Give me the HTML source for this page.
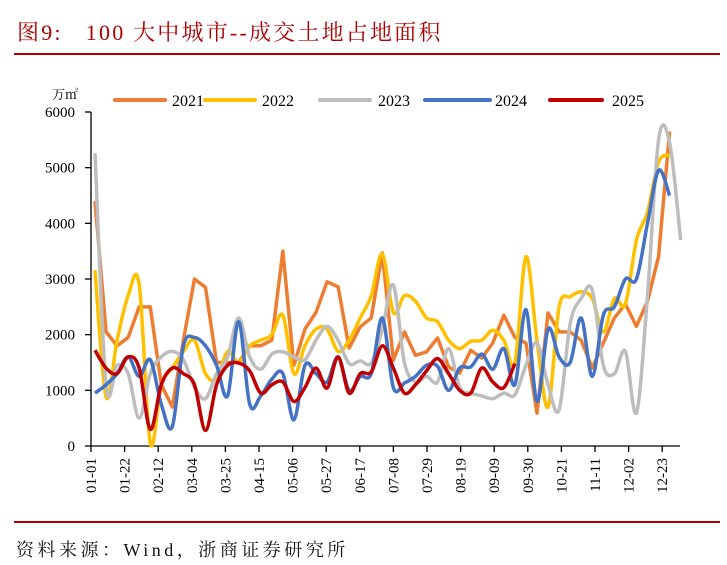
<!DOCTYPE html>
<html><head><meta charset="utf-8"><style>
body{margin:0;background:#fff;width:727px;height:565px;overflow:hidden;position:relative;font-family:"Liberation Serif","Noto Serif CJK SC",serif}
#title{position:absolute;left:17px;top:16px;font-size:22px;letter-spacing:2.2px;color:#b00000;white-space:nowrap;font-family:"Liberation Serif","Noto Serif CJK SC",serif}
#src{position:absolute;left:16px;top:536px;font-size:18px;letter-spacing:3.5px;color:#111;white-space:nowrap;font-family:"Liberation Serif","Noto Serif CJK SC",serif}
</style></head><body>
<div id="title">图9:&nbsp;&nbsp; 100 大中城市--成交土地占地面积</div>
<svg id="chart" width="727" height="565" style="position:absolute;left:0;top:0"></svg>
<div id="src">资料来源：Wind，浙商证券研究所</div>
<script>
const xLabels=["01-01","01-22","02-12","03-04","03-25","04-15","05-06","05-27","06-17","07-08","07-29","08-19","09-09","09-30","10-21","11-11","12-02","12-23"];
const yTicks=[0,1000,2000,3000,4000,5000,6000];
const seriesNames=["2021","2022","2023","2024","2025"];
const s2021=[4400,2050,1800,1950,2500,2500,1100,700,1900,3000,2850,1500,1500,1500,1800,1800,1900,3500,1450,2100,2400,2950,2860,1760,2140,2300,3470,1540,2050,1630,1690,1940,1420,1310,1720,1580,1850,2350,1950,1850,590,2390,2050,2050,1900,1400,1850,2300,2550,2150,2600,3400,5650];
const s2022=[3160,880,1900,2700,2900,50,1100,1400,1700,1900,1300,1200,1700,1500,1800,1900,2000,2350,1300,1800,2100,2100,1700,1900,2300,2700,3450,2400,2700,2600,2300,2230,1900,1750,1880,1900,2080,1900,1500,3400,1900,700,2500,2680,2770,2650,2050,2650,2550,3700,4200,5100,5230];
const s2023=[5260,1100,1450,1300,500,1300,1600,1700,1550,1060,850,1300,1600,2300,1600,1380,1650,1690,1600,1550,1900,2150,1900,1480,1530,1490,2100,2890,1500,1150,1250,1150,1750,1050,950,900,850,950,920,1450,1850,1100,650,2200,2650,2800,1450,1300,1700,600,2700,5500,5450,3700];
const s2024=[950,1100,1300,1600,1250,1550,750,350,1800,1950,1800,1450,900,2230,750,900,1200,1300,470,1450,1300,1150,1600,1000,1250,1300,2300,1050,1130,1250,1450,1430,1000,1400,1420,1650,1380,1750,1100,2450,800,2100,1600,1500,2300,1250,2350,2500,3000,3000,4000,4950,4500];
const s2025=[1720,1400,1300,1600,1400,300,1100,1400,1300,1100,280,1100,1450,1490,1350,950,1100,1150,800,1050,1400,1040,1600,950,1300,1330,1800,1400,950,1100,1350,1570,1300,1000,950,1400,1150,1050,1480];
const colors=["#ED7D31","#FFC000","#BDBDBD","#4472C4","#C00000"];
const allSeries=[s2021,s2022,s2023,s2024,s2025];
const svg=document.getElementById('chart');
const NS='http://www.w3.org/2000/svg';
const X0=95,STEP=11.05,Y0=446,YMAX=6000,YTOP=112;
function xs(i){return X0+i*STEP;}
function ys(v){return Y0-(v/YMAX)*(Y0-YTOP);}
function mk(t,a){const e=document.createElementNS(NS,t);for(const k in a)e.setAttribute(k,a[k]);svg.appendChild(e);return e;}
let l=mk('line',{x1:14,y1:54,x2:720,y2:54,stroke:'#b00000','stroke-width':2});


l=mk('line',{x1:14,y1:522,x2:720,y2:522,stroke:'#b00000','stroke-width':2});


let ax=mk('line',{x1:91,y1:112,x2:91,y2:446,stroke:'#000','stroke-width':1.3});


ax=mk('line',{x1:91,y1:446,x2:680,y2:446,stroke:'#000','stroke-width':1.3});


yTicks.forEach(v=>{const y=ys(v);
 mk('line',{x1:85,y1:y,x2:91,y2:y,stroke:'#000','stroke-width':1.3});
 const t=mk('text',{x:75,y:y+5,'text-anchor':'end','font-size':15,'font-family':'Liberation Serif, serif',fill:'#000'});
 t.textContent=v;
 
 
});
xLabels.forEach((lab,k)=>{const x=91+k*33.6;
 mk('line',{x1:x,y1:446,x2:x,y2:452,stroke:'#000','stroke-width':1.3});
 const t=mk('text',{x:0,y:0,'text-anchor':'end','font-size':15,'font-family':'Liberation Serif, serif',fill:'#000',transform:`translate(${x+5},458) rotate(-90)`});
 t.textContent=lab;
 
 
});
let u=mk('text',{x:52,y:99,'font-size':13,'font-family':'Liberation Serif, Noto Serif CJK SC, serif',fill:'#000'});
u.textContent='万㎡';


function smooth(pts){let d=`M${pts[0][0]},${pts[0][1]}`;
 for(let i=0;i<pts.length-1;i++){const p0=pts[i-1]||pts[i],p1=pts[i],p2=pts[i+1],p3=pts[i+2]||p2;
  const c1x=p1[0]+(p2[0]-p0[0])/6,c1y=p1[1]+(p2[1]-p0[1])/6,c2x=p2[0]-(p3[0]-p1[0])/6,c2y=p2[1]-(p3[1]-p1[1])/6;
  d+=` C${c1x},${c1y} ${c2x},${c2y} ${p2[0]},${p2[1]}`;}return d;}
allSeries.forEach((s,si)=>{const pts=s.map((v,i)=>[xs(i),ys(v)]);
 const d=si===0?'M'+pts.map(p=>p.join(',')).join(' L'):smooth(pts);
 const p=mk('path',{d:d,fill:'none',stroke:colors[si],'stroke-width':3.5,'stroke-linejoin':'round'});
 
 
});
const legX=[[115,165,172],[205,255,262],[320,370,378],[425,490,495],[550,602,612]];
seriesNames.forEach((n,i)=>{const g=legX[i];
 const ln=mk('line',{x1:g[0],y1:100,x2:g[1],y2:100,stroke:colors[i],'stroke-width':4,'stroke-linecap':'round'});
 
 
 const t=mk('text',{x:g[2],y:106,'font-size':16,'font-family':'Liberation Serif, serif',fill:'#000'});
 t.textContent=n;
 
 
});
</script>
</body></html>
